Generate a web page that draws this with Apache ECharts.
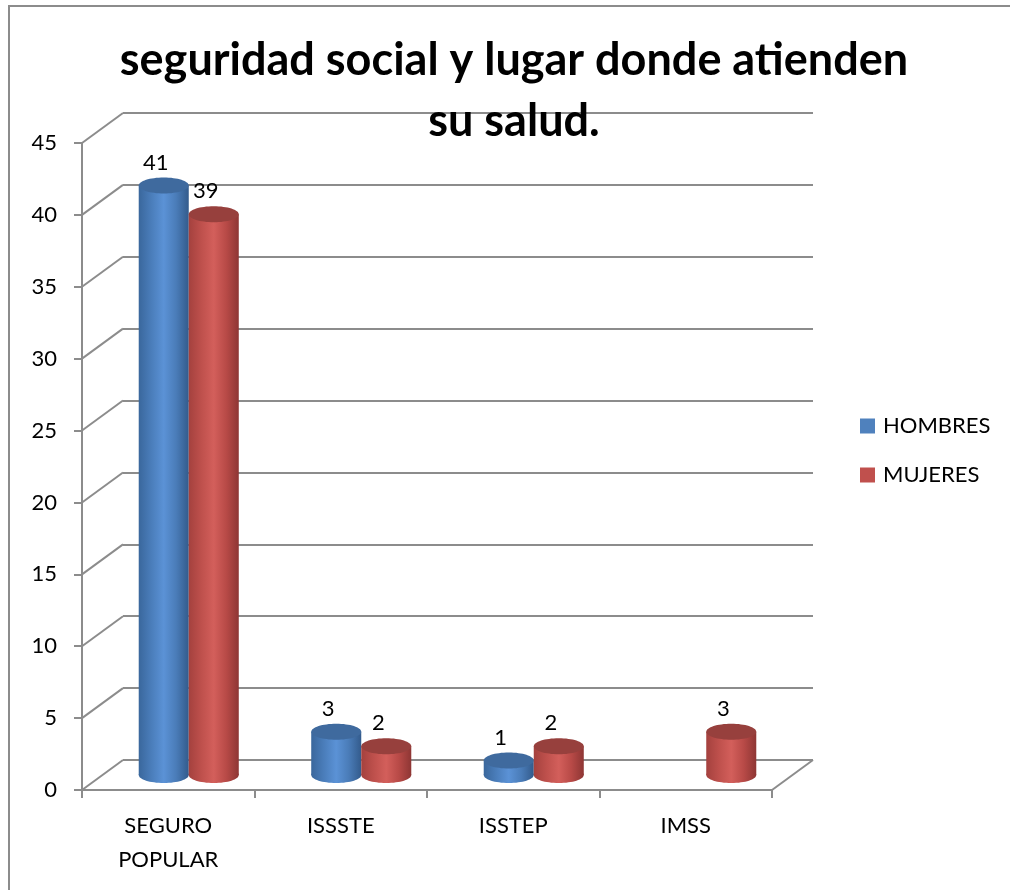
<!DOCTYPE html>
<html>
<head>
<meta charset="utf-8">
<script src="https://cdn.jsdelivr.net/npm/echarts@6/dist/echarts.min.js"></script>
<style>
  html, body { margin: 0; padding: 0; background: #ffffff; overflow: hidden; }
  #frame { position: absolute; left: 8px; top: 5px; width: 1200px; height: 1200px;
           border-left: 2px solid #8c8c8c; border-top: 2px solid #8c8c8c; }
  #chart { position: absolute; left: 0; top: 0; width: 1010px; height: 890px; }
</style>
</head>
<body>
<div id="frame"></div>
<div id="chart"></div>
<script>
// ---- data ----
const categories = ['SEGURO\nPOPULAR', 'ISSSTE', 'ISSTEP', 'IMSS'];
const hombres = [41, 3, 1, 0];
const mujeres = [39, 2, 2, 3];
const seriesNames = ['HOMBRES', 'MUJERES'];
const yTickValues = [0, 5, 10, 15, 20, 25, 30, 35, 40, 45];
const yMax = 45;
const yStep = 5;
const titleText = 'seguridad social y lugar donde atienden\nsu salud.';

// ---- layout / style ----
const BACK = { left: 123, top: 113, width: 690, height: 647 };
const DX = 41, DY = 30;
const FONT = 'Lato, "Open Sans", sans-serif';
const GRID_COLOR = '#8c8c8c';
const BAR_FRAC = 0.29;
const RY = 8;
const palettes = [
  { base: '#4F81BD', stops: ['#3A679C', '#4A7DBA', '#5B92D6', '#4A7CB8', '#335B8C'], top: '#3F6A9E' },
  { base: '#C0504D', stops: ['#A4413E', '#BE504C', '#D35F5B', '#B84A47', '#8E3634'], top: '#97403D' }
];

const chart = echarts.init(document.getElementById('chart'), null, { renderer: 'canvas' });

function grid(offX, offY) {
  return { left: BACK.left - offX, top: BACK.top + offY, width: BACK.width, height: BACK.height, containLabel: false };
}

function cylinderSeries(idx, values) {
  const pal = palettes[idx];
  return {
    name: seriesNames[idx],
    type: 'custom',
    xAxisIndex: 2, yAxisIndex: 2,
    itemStyle: { color: pal.base },
    z: 5 + idx,
    data: values.map((v, i) => [i, v]),
    renderItem: function (params, api) {
      const v = api.value(1);
      if (!v) return null;
      const base = api.coord([api.value(0), 0]);
      const top = api.coord([api.value(0), v]);
      const band = api.size([1, 0])[0];
      const bw = band * BAR_FRAC;
      const cx = base[0] + (idx === 0 ? -bw / 2 : bw / 2);
      const x0 = cx - bw / 2;
      const grad = {
        type: 'linear', x: 0, y: 0, x2: 1, y2: 0,
        colorStops: pal.stops.map((c, k) => ({ offset: k / (pal.stops.length - 1), color: c }))
      };
      return {
        type: 'group',
        children: [
          { type: 'ellipse', shape: { cx: cx, cy: base[1], rx: bw / 2, ry: RY }, style: { fill: grad } },
          { type: 'rect', shape: { x: x0, y: top[1], width: bw, height: base[1] - top[1] }, style: { fill: grad } },
          { type: 'ellipse', shape: { cx: cx, cy: top[1], rx: bw / 2, ry: RY }, style: { fill: pal.top } },
          { type: 'text', x: cx - 8, y: top[1] - RY - 15,
            style: { text: String(v), fill: '#000', font: '22px ' + FONT,
                     align: 'center', verticalAlign: 'middle', textAlign: 'center', textVerticalAlign: 'middle' } }
        ]
      };
    }
  };
}

const option = {
  animation: false,
  backgroundColor: 'transparent',
  graphic: [{
    type: 'text', x: 514, y: 30, z: 100,
    style: { text: titleText, fill: '#000', font: 'bold 45px ' + FONT, lineHeight: 61,
             align: 'center', verticalAlign: 'top', textAlign: 'center', textVerticalAlign: 'top' }
  }],
  legend: {
    orient: 'vertical', left: 855, top: 410,
    data: seriesNames, icon: 'rect', itemWidth: 15, itemHeight: 15, itemGap: 27,
    textStyle: { fontFamily: FONT, fontSize: 22, color: '#000', padding: [0, 0, 0, 3] }
  },
  grid: [grid(0, 0), grid(DX, DY), grid(DX / 2, DY / 2)],
  xAxis: [
    { gridIndex: 0, type: 'category', data: categories, show: false },
    { gridIndex: 1, type: 'category', data: categories,
      axisLine: { show: true, lineStyle: { color: GRID_COLOR, width: 2 } },
      axisTick: { show: true, length: 8, alignWithLabel: false, lineStyle: { color: GRID_COLOR, width: 2 } },
      axisLabel: { color: '#000', fontFamily: FONT, fontSize: 22, lineHeight: 34, margin: 19 } },
    { gridIndex: 2, type: 'category', data: categories, show: false }
  ],
  yAxis: [
    { gridIndex: 0, type: 'value', min: 0, max: yMax, interval: yStep,
      axisLine: { show: false }, axisTick: { show: false }, axisLabel: { show: false },
      splitLine: { show: true, lineStyle: { color: GRID_COLOR, width: 2 } } },
    { gridIndex: 1, type: 'value', min: 0, max: yMax, interval: yStep,
      axisLine: { show: true, lineStyle: { color: GRID_COLOR, width: 2 } },
      axisTick: { show: true, length: 8, lineStyle: { color: GRID_COLOR, width: 2 } },
      axisLabel: { color: '#000', fontFamily: FONT, fontSize: 22, margin: 25 },
      splitLine: { show: false } },
    { gridIndex: 2, type: 'value', min: 0, max: yMax, interval: yStep, show: false,
      splitLine: { show: false } }
  ],
  series: [
    {
      type: 'custom', xAxisIndex: 0, yAxisIndex: 0, silent: true, z: 2,
      data: yTickValues.map(v => [0, v]),
      renderItem: function (params, api) {
        const cs = params.coordSys;
        const p = api.coord([0, api.value(1)]);
        const lines = [
          { type: 'line', shape: { x1: cs.x, y1: p[1], x2: cs.x - DX, y2: p[1] + DY },
            style: { stroke: GRID_COLOR, lineWidth: 2 } }
        ];
        if (api.value(1) === 0) {
          lines.push({ type: 'line', shape: { x1: cs.x + cs.width, y1: p[1], x2: cs.x + cs.width - DX, y2: p[1] + DY },
            style: { stroke: GRID_COLOR, lineWidth: 2 } });
        }
        return { type: 'group', children: lines };
      }
    },
    cylinderSeries(0, hombres),
    cylinderSeries(1, mujeres)
  ]
};
chart.setOption(option);
</script>
</body>
</html>
